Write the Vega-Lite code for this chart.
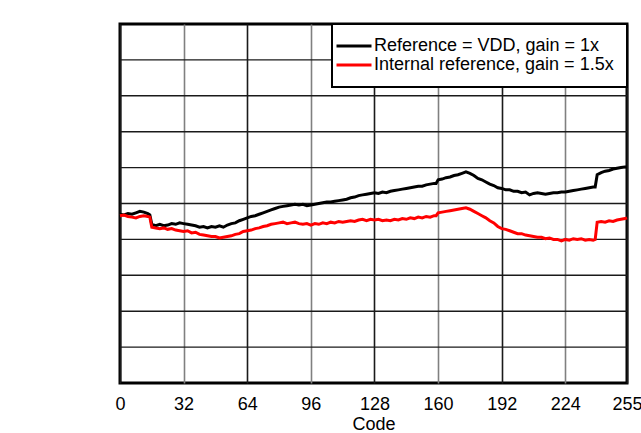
{
  "$schema": "https://vega.github.io/schema/vega-lite/v6.json",
  "autosize": {"type": "none"},
  "padding": {"left": 120, "top": 24, "right": 14, "bottom": 50},
  "width": 507,
  "height": 359,
  "background": "white",
  "config": {
    "font": "Liberation Sans",
    "view": {"stroke": "#000000", "strokeWidth": 3},
    "axis": {
      "labelFont": "Liberation Sans",
      "titleFont": "Liberation Sans",
      "labelFontSize": 18,
      "titleFontSize": 18,
      "labelColor": "#000000",
      "titleColor": "#000000",
      "titleFontWeight": "normal",
      "tickSize": 0,
      "domain": false,
      "gridOpacity": 1
    },
    "legend": {
      "labelFont": "Liberation Sans",
      "labelFontSize": 18,
      "labelColor": "#000000"
    }
  },
  "layer": [
    {
      "data": {"values": [{"v":-0.2},{"v":-0.15},{"v":-0.1},{"v":-0.05},{"v":0},{"v":0.05},{"v":0.1},{"v":0.15},{"v":0.2}]},
      "mark": {"type": "rule", "color": "#1a1a1a", "strokeWidth": 1.4},
      "encoding": {
        "y": {"field": "v", "type": "quantitative", "axis": null, "scale": {"domain": [-0.25, 0.25], "nice": false, "zero": false}}
      }
    },
    {
      "data": {
        "values": [
          {"c":0,"a":-0.015,"b":-0.017},{"c":2,"a":-0.016,"b":-0.016},{"c":4,"a":-0.014,"b":-0.018},{"c":6,"a":-0.015,"b":-0.019},
          {"c":8,"a":-0.013,"b":-0.020},{"c":10,"a":-0.011,"b":-0.018},{"c":12,"a":-0.012,"b":-0.017},{"c":14,"a":-0.014,"b":-0.018},
          {"c":15,"a":-0.016,"b":-0.019},{"c":16,"a":-0.029,"b":-0.033},{"c":18,"a":-0.031,"b":-0.034},{"c":20,"a":-0.029,"b":-0.035},
          {"c":22,"a":-0.031,"b":-0.034},{"c":24,"a":-0.030,"b":-0.036},{"c":26,"a":-0.028,"b":-0.035},{"c":28,"a":-0.029,"b":-0.037},
          {"c":30,"a":-0.027,"b":-0.038},{"c":32,"a":-0.028,"b":-0.039},{"c":34,"a":-0.029,"b":-0.038},{"c":36,"a":-0.030,"b":-0.041},
          {"c":38,"a":-0.031,"b":-0.040},{"c":40,"a":-0.033,"b":-0.043},{"c":42,"a":-0.032,"b":-0.044},{"c":44,"a":-0.034,"b":-0.045},
          {"c":46,"a":-0.032,"b":-0.046},{"c":48,"a":-0.033,"b":-0.046},{"c":50,"a":-0.031,"b":-0.048},{"c":52,"a":-0.033,"b":-0.047},
          {"c":54,"a":-0.030,"b":-0.046},{"c":56,"a":-0.028,"b":-0.045},{"c":58,"a":-0.027,"b":-0.043},{"c":60,"a":-0.024,"b":-0.042},
          {"c":62,"a":-0.022,"b":-0.039},{"c":64,"a":-0.020,"b":-0.038},{"c":66,"a":-0.018,"b":-0.037},{"c":68,"a":-0.017,"b":-0.035},
          {"c":70,"a":-0.015,"b":-0.034},{"c":72,"a":-0.013,"b":-0.032},{"c":74,"a":-0.011,"b":-0.031},{"c":76,"a":-0.009,"b":-0.029},
          {"c":78,"a":-0.007,"b":-0.028},{"c":80,"a":-0.005,"b":-0.027},{"c":82,"a":-0.004,"b":-0.026},{"c":84,"a":-0.003,"b":-0.028},
          {"c":86,"a":-0.002,"b":-0.027},{"c":88,"a":-0.001,"b":-0.026},{"c":90,"a":-0.002,"b":-0.028},{"c":92,"a":-0.001,"b":-0.029},
          {"c":94,"a":-0.003,"b":-0.028},{"c":96,"a":-0.002,"b":-0.030},{"c":98,"a":-0.001,"b":-0.028},{"c":100,"a":0.000,"b":-0.029},
          {"c":102,"a":0.001,"b":-0.027},{"c":104,"a":0.002,"b":-0.028},{"c":106,"a":0.002,"b":-0.026},{"c":108,"a":0.003,"b":-0.027},
          {"c":110,"a":0.004,"b":-0.025},{"c":112,"a":0.005,"b":-0.026},{"c":114,"a":0.006,"b":-0.025},{"c":116,"a":0.008,"b":-0.024},
          {"c":118,"a":0.009,"b":-0.025},{"c":120,"a":0.011,"b":-0.023},{"c":122,"a":0.012,"b":-0.022},{"c":124,"a":0.013,"b":-0.024},
          {"c":126,"a":0.014,"b":-0.022},{"c":128,"a":0.015,"b":-0.023},{"c":130,"a":0.014,"b":-0.022},{"c":132,"a":0.016,"b":-0.024},
          {"c":134,"a":0.015,"b":-0.023},{"c":136,"a":0.017,"b":-0.024},{"c":138,"a":0.018,"b":-0.022},{"c":140,"a":0.019,"b":-0.023},
          {"c":142,"a":0.020,"b":-0.021},{"c":144,"a":0.021,"b":-0.022},{"c":146,"a":0.022,"b":-0.020},{"c":148,"a":0.023,"b":-0.021},
          {"c":150,"a":0.024,"b":-0.019},{"c":152,"a":0.024,"b":-0.020},{"c":154,"a":0.026,"b":-0.018},{"c":156,"a":0.027,"b":-0.019},
          {"c":158,"a":0.028,"b":-0.017},{"c":159,"a":0.028,"b":-0.017},{"c":160,"a":0.033,"b":-0.013},{"c":162,"a":0.034,"b":-0.012},
          {"c":164,"a":0.036,"b":-0.011},{"c":166,"a":0.037,"b":-0.010},{"c":168,"a":0.039,"b":-0.009},{"c":170,"a":0.040,"b":-0.008},
          {"c":172,"a":0.042,"b":-0.007},{"c":174,"a":0.044,"b":-0.006},{"c":176,"a":0.042,"b":-0.008},{"c":178,"a":0.039,"b":-0.011},
          {"c":180,"a":0.035,"b":-0.014},{"c":182,"a":0.033,"b":-0.017},{"c":184,"a":0.030,"b":-0.020},{"c":186,"a":0.027,"b":-0.024},
          {"c":188,"a":0.025,"b":-0.027},{"c":190,"a":0.022,"b":-0.032},{"c":192,"a":0.021,"b":-0.035},{"c":194,"a":0.019,"b":-0.036},
          {"c":196,"a":0.019,"b":-0.038},{"c":198,"a":0.017,"b":-0.040},{"c":200,"a":0.017,"b":-0.042},{"c":202,"a":0.015,"b":-0.042},
          {"c":204,"a":0.016,"b":-0.044},{"c":206,"a":0.012,"b":-0.045},{"c":208,"a":0.014,"b":-0.046},{"c":210,"a":0.015,"b":-0.047},
          {"c":212,"a":0.014,"b":-0.047},{"c":214,"a":0.013,"b":-0.049},{"c":216,"a":0.014,"b":-0.048},{"c":218,"a":0.015,"b":-0.050},
          {"c":220,"a":0.015,"b":-0.050},{"c":222,"a":0.016,"b":-0.052},{"c":224,"a":0.016,"b":-0.050},{"c":226,"a":0.017,"b":-0.051},
          {"c":228,"a":0.018,"b":-0.049},{"c":230,"a":0.019,"b":-0.050},{"c":232,"a":0.020,"b":-0.049},{"c":234,"a":0.021,"b":-0.051},
          {"c":236,"a":0.022,"b":-0.050},{"c":238,"a":0.023,"b":-0.051},{"c":239,"a":0.023,"b":-0.050},{"c":240,"a":0.040,"b":-0.026},
          {"c":242,"a":0.043,"b":-0.025},{"c":244,"a":0.045,"b":-0.026},{"c":246,"a":0.046,"b":-0.024},{"c":248,"a":0.048,"b":-0.025},
          {"c":250,"a":0.049,"b":-0.023},{"c":252,"a":0.050,"b":-0.022},{"c":254,"a":0.051,"b":-0.021},{"c":255,"a":0.051,"b":-0.020}
        ]
      },
      "transform": [{"fold": ["a", "b"], "as": ["s", "v"]}],
      "mark": {"type": "line", "strokeWidth": 3, "interpolate": "linear"},
      "encoding": {
        "x": {
          "field": "c",
          "type": "quantitative",
          "scale": {"domain": [0, 255], "nice": false, "zero": false},
          "axis": {
            "title": "Code",
            "values": [0, 32, 64, 96, 128, 160, 192, 224, 255],
            "labelFlush": false,
            "labelPadding": 12,
            "titlePadding": 2,
            "grid": true,
            "gridColor": {"condition": {"test": "datum.value % 64 == 32", "value": "#808080"}, "value": "#1a1a1a"},
            "gridWidth": 1.6
          }
        },
        "y": {
          "field": "v",
          "type": "quantitative",
          "scale": {"domain": [-0.25, 0.25], "nice": false, "zero": false},
          "axis": {
            "title": "Total Unadjusted Error (%FSR)",
            "values": [-0.25, -0.2, -0.15, -0.1, -0.05, 0, 0.05, 0.1, 0.15, 0.2, 0.25],
            "labelExpr": "'' + datum.value",
            "labelPadding": 8,
            "titlePadding": 14,
            "grid": false
          }
        },
        "color": {
          "field": "s",
          "type": "nominal",
          "scale": {"domain": ["a", "b"], "range": ["#000000", "#ff0000"]},
          "legend": {
            "title": null,
            "orient": "top-right",
            "offset": 0,
            "padding": 13,
            "strokeColor": "#000000",
            "fillColor": "white",
            "symbolType": "M-2.5,0H2.5",
            "symbolSize": 196,
            "symbolStrokeWidth": 3,
            "labelOffset": 11,
            "rowPadding": 1,
            "labelLimit": 400,
            "labelExpr": "datum.label == 'a' ? 'Reference = VDD, gain = 1x' : 'Internal reference, gain = 1.5x'",
            "encode": {"legend": {"update": {"strokeWidth": {"value": 2}}}}
          }
        }
      }
    }
  ]
}
